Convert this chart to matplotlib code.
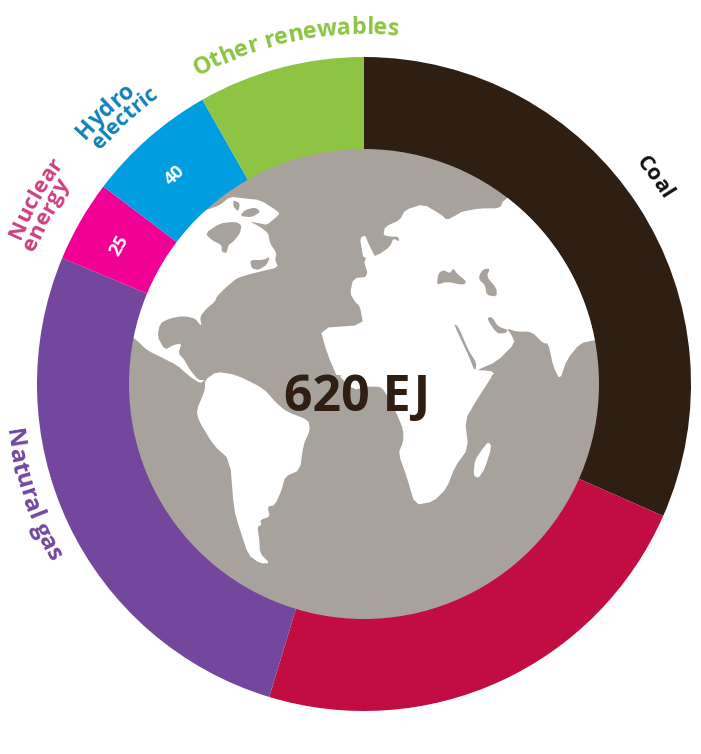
import matplotlib
matplotlib.use('Agg')
import matplotlib.pyplot as plt
import numpy as np
from matplotlib.patches import Circle, Polygon
from matplotlib.textpath import TextPath
from matplotlib.font_manager import FontProperties

sources = ['Coal', 'Oil', 'Natural gas', 'Nuclear energy', 'Hydro electric', 'Other renewables']
values = [196, 143, 165, 25, 40, 51]
colors = ['#2E1F12', '#C20D43', '#72479D', '#F00094', '#009EE0', '#8DC444']
total_label = '620 EJ'

W, H = 701, 754
CX, CY = 364, 384
R_OUT, R_IN = 327, 235
GREY = '#A8A29D'
FONT = 'Open Sans'

# map outlines as (crop x, crop y)
north_america = [(150, 120), (260, 90), (300, 75), (330, 50), (370, 55), (420, 60), (460, 85), (480, 100),
                 (465, 115), (440, 135), (420, 130), (390, 125), (420, 140), (445, 160), (450, 190),
                 (470, 220), (465, 240), (475, 262), (420, 275), (380, 285), (350, 295), (320, 320),
                 (290, 350), (285, 365), (260, 385), (240, 410), (245, 440), (225, 415), (190, 408),
                 (150, 415), (120, 430), (112, 470), (135, 510), (160, 495), (185, 490), (175, 520),
                 (190, 535), (210, 570), (235, 600), (255, 600), (240, 610), (210, 590), (170, 555),
                 (130, 535), (80, 510), (50, 480), (20, 460), (40, 300)]
hudson = [(255, 160), (300, 130), (345, 125), (365, 135), (360, 160), (340, 185), (325, 195), (320, 220),
          (305, 215), (305, 195), (275, 180)]
st_lawrence = [(390, 240), (430, 240), (450, 230), (440, 255), (415, 270), (395, 265)]
baffin_gap = [(340, 60), (360, 70), (355, 95), (340, 80)]
baffin_lake = [(375, 90), (405, 82), (422, 95), (395, 112), (360, 108)]
eurasia = [(490, 60), (560, 20), (800, 300), (800, 480), (765, 480), (720, 490), (680, 540), (660, 600),
           (640, 560), (625, 490), (610, 490), (575, 455), (530, 455), (500, 445), (515, 465), (525, 490),
           (470, 545), (412, 570), (412, 580), (468, 575), (440, 600), (-5, 600), (-39, 519), (-60, 444),
           (70, 435), (60, 380), (45, 365), (30, 340), (40, 295), (85, 290), (70, 235), (115, 225), (150, 200),
           (160, 175), (178, 185), (175, 170), (150, 170), (130, 165), (135, 140), (180, 120), (195, 90),
           (250, 72), (305, 105), (320, 120), (350, 105), (365, 95), (420, 85), (480, 85)]
britain = [(60, 175), (75, 165), (85, 190), (100, 220), (105, 230), (70, 235), (65, 205)]
black_sea = [(290, 315), (295, 280), (310, 270), (330, 280), (340, 265), (350, 280), (380, 305), (370, 315),
             (320, 305)]
caspian = [(418, 285), (430, 268), (450, 265), (440, 290), (470, 325), (470, 350), (440, 345), (435, 315),
           (418, 300)]
persian_gulf = [(440, 415), (455, 410), (475, 440), (505, 450), (495, 460), (470, 460)]
red_sea = [(340, 430), (355, 440), (385, 510), (410, 550), (405, 575), (385, 525)]
africa = [(470, 10), (520, 60), (560, 50), (600, 50), (615, 65), (650, 130), (670, 180), (670, 215), (655, 250),
          (680, 320), (705, 405), (760, 395), (800, 355), (825, 290), (865, 235), (855, 150), (890, 90),
          (945, 5), (900, 0), (600, 0)]
south_america = [(75, 30), (110, 5), (170, 15), (250, 55), (290, 100), (320, 125), (385, 150), (390, 180),
                 (370, 225), (360, 300), (315, 320), (305, 360), (285, 405), (262, 410), (270, 440), (240, 450),
                 (245, 465), (232, 470), (238, 510), (240, 550), (270, 580), (240, 580), (205, 555), (180, 480),
                 (162, 420), (150, 270), (100, 225), (55, 150), (50, 120), (75, 60)]
madagascar = [(925, 215), (935, 230), (915, 295), (895, 325), (880, 315), (885, 270), (905, 240)]


def crop(points, x0, y0):
    return [(x0 + a / 3, H - (y0 + b / 3)) for a, b in points]


def smooth(points):
    # one pass of corner cutting so the coasts are not so angular
    out = []
    for i in range(len(points)):
        p, q = np.array(points[i]), np.array(points[(i + 1) % len(points)])
        out.append(0.8 * p + 0.2 * q)
        out.append(0.2 * p + 0.8 * q)
    return out


def arc_text(ax, text, radius, mid, size, color, weight='bold', inward=False):
    # one character at a time along a circle round the chart centre; mid in degrees clockwise from top
    fp = FontProperties(family=FONT, size=size, weight=weight)
    scale = 100 / 72
    widths = []
    for i in range(len(text)):
        widths.append((TextPath((0, 0), text[:i + 1] + '|', prop=fp).get_extents().x1
                       - TextPath((0, 0), '|', prop=fp).get_extents().x1) * scale)
    total = widths[-1]
    left = [0] + widths[:-1]
    for ch, a, b in zip(text, left, widths):
        s = ((a + b) / 2 - total / 2) / radius * 180 / np.pi
        ang = mid - s if inward else mid + s
        t = np.radians(ang)
        rot = 180 - ang if inward else -ang
        ax.text(CX + radius * np.sin(t), H - CY + radius * np.cos(t), ch, color=color, fontsize=size,
                family=FONT, weight=weight, rotation=rot, rotation_mode='anchor', ha='center', va='baseline')


fig = plt.figure(figsize=(W / 100, H / 100), dpi=100)
ax = fig.add_axes([0, 0, 1, 1])
ax.pie(values, colors=colors, startangle=90, counterclock=False, center=(CX, H - CY), radius=R_OUT,
       frame=True, wedgeprops=dict(width=R_OUT - R_IN + 1, linewidth=0))
ax.set_xlim(0, W)
ax.set_ylim(0, H)
ax.set_aspect('equal')
ax.axis('off')

globe = Circle((CX, H - CY), R_IN, fc=GREY, ec='none', zorder=2)
ax.add_patch(globe)

shapes = [(north_america, 120, 180, 'w'), (hudson, 120, 180, GREY), (st_lawrence, 120, 180, GREY),
          (baffin_gap, 120, 180, GREY), (baffin_lake, 120, 180, GREY),
          (eurasia, 340, 180, 'w'), (britain, 340, 180, 'w'), (black_sea, 340, 180, GREY),
          (caspian, 340, 180, GREY), (persian_gulf, 340, 180, GREY), (red_sea, 340, 180, GREY),
          (africa, 180, 370, 'w'), (south_america, 180, 370, 'w'), (madagascar, 180, 370, 'w')]
for pts, x0, y0, c in shapes:
    p = Polygon(smooth(crop(pts, x0, y0)), closed=True, fc=c, ec='none', zorder=3)
    ax.add_patch(p)
    p.set_clip_path(globe)

ax.text(357, H - 398, total_label, color=colors[0], fontsize=36, family=FONT, weight='bold',
        ha='center', va='center', zorder=5)

arc_text(ax, 'Coal', 351, 54.5, 15.5, '#111111')
arc_text(ax, 'Other renewables', 350, -11.4, 16.8, colors[5])
arc_text(ax, 'Hydro', 370, -43.5, 16.5, '#1282B8')
arc_text(ax, 'electric', 353, -42, 15.5, '#1282B8')
arc_text(ax, 'Nuclear', 373, -60.5, 16, '#CE3F80')
arc_text(ax, 'energy', 355, -62, 16, '#CE3F80')
arc_text(ax, 'Natural gas', 361, -108.5, 17.5, colors[2], inward=True)

ax.text(175, H - 175, str(values[4]), color='w', fontsize=13, family=FONT, weight='bold', rotation=43,
        ha='center', va='center', zorder=5)
ax.text(119, H - 246, str(values[3]), color='w', fontsize=13, family=FONT, weight='bold', rotation=60,
        ha='center', va='center', zorder=5)

fig.savefig('out.png', dpi=100)
